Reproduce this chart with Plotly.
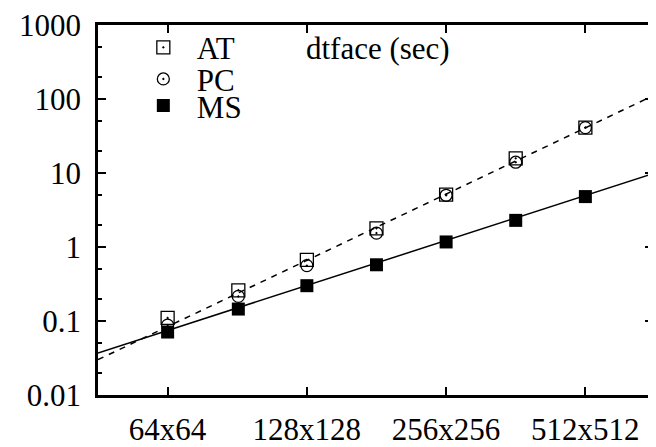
import numpy as np
import plotly.graph_objects as go

# ---- data ----
sizes = [64, 91, 128, 181, 256, 362, 512]
at_vals = [0.11, 0.26, 0.67, 1.79, 5.1, 15.8, 41]
pc_vals = [0.088, 0.215, 0.56, 1.54, 5.0, 14, 41]
ms_vals = [0.071, 0.145, 0.30, 0.575, 1.17, 2.29, 4.8]

fit_x = [45.25, 724]
fit_dashed = [0.030, 114]
fit_solid = [0.037, 10.0]

x_tickvals = [64, 128, 256, 512]
x_ticktext = ["64x64", "128x128", "256x256", "512x512"]
y_tickvals = [0.01, 0.1, 1, 10, 100, 1000]
y_ticktext = ["0.01", "0.1", "1", "10", "100", "1000"]
y_minor = [m * 10.0 ** e for e in range(-2, 3) for m in (2, 5)]

FONT = "Liberation Serif"
FS = 31

fig = go.Figure()
fig.add_trace(go.Scatter(x=fit_x, y=fit_dashed, mode="lines", showlegend=False,
                         line=dict(color="black", width=1.5, dash="6px,6px")))
fig.add_trace(go.Scatter(x=fit_x, y=fit_solid, mode="lines", showlegend=False,
                         line=dict(color="black", width=1.5)))
fig.add_trace(go.Scatter(x=sizes, y=at_vals, mode="markers", name="AT", legend="legend",
                         marker=dict(symbol="square-open-dot", size=13, color="black",
                                     line=dict(width=1.3, color="black"))))
fig.add_trace(go.Scatter(x=sizes, y=pc_vals, mode="markers", name="PC", legend="legend2",
                         marker=dict(symbol="circle-open-dot", size=12, color="black",
                                     line=dict(width=1.3, color="black"))))
fig.add_trace(go.Scatter(x=sizes, y=ms_vals, mode="markers", name="MS", legend="legend3",
                         marker=dict(symbol="square", size=13, color="black",
                                     line=dict(width=0))))

# page has an 8px body margin: figure is offset by (8, 8)
OFF = 8
W, H = 656 - OFF, 447 - OFF
L, R, T, B = 98 - OFF, 0, 21 - OFF, 51
pw = W - L - R
ph = H - T - B
x_lo = np.log10(64) - 0.5 * np.log10(2)
x_hi = x_lo + (pw / 140.0) * np.log10(2)

def leg(y_px):
    return dict(x=(130 - 98) / pw, y=1 - (y_px - 21) / ph, xanchor="left", yanchor="middle",
                bgcolor="rgba(0,0,0,0)", font=dict(family=FONT, size=FS, color="black"),
                borderwidth=0, itemwidth=57)

fig.update_layout(
    width=W, height=H,
    margin=dict(l=L, r=R, t=T, b=B),
    paper_bgcolor="white", plot_bgcolor="white",
    font=dict(family=FONT, size=FS, color="black"),
    legend=leg(44), legend2=leg(76), legend3=leg(103),
    xaxis=dict(type="log", range=[x_lo, x_hi], tickvals=x_tickvals, ticktext=x_ticktext,
               showgrid=False, zeroline=False, showline=True, linewidth=2.5, linecolor="black",
               mirror="ticks", ticks="inside", ticklen=8, tickwidth=2, tickcolor="black",
               ticklabelstandoff=5, ticklabeloverflow="allow"),
    yaxis=dict(type="log", range=[-2, 3], tickvals=y_tickvals, ticktext=y_ticktext,
               showgrid=False, zeroline=False, showline=True, linewidth=2.5, linecolor="black",
               mirror="ticks", ticks="inside", ticklen=8, tickwidth=2, tickcolor="black",
               ticklabelstandoff=8, ticklabeloverflow="allow",
               minor=dict(tickvals=y_minor, ticks="inside", ticklen=4, tickwidth=2,
                          tickcolor="black", showgrid=False)),
    annotations=[dict(text="dtface (sec)", xref="paper", yref="paper",
                      x=(380 - 98) / pw, y=1 - (45 - 21) / ph,
                      xanchor="center", yanchor="middle", showarrow=False,
                      font=dict(family=FONT, size=FS, color="black"))],
)

fig.write_html("out.html")
